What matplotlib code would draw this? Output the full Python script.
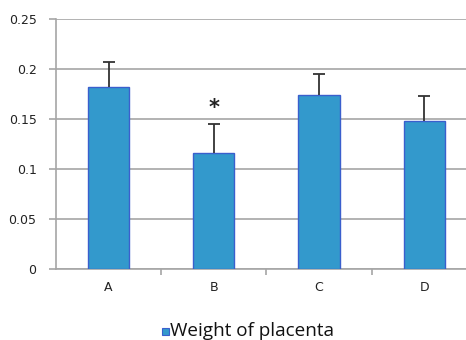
import matplotlib
matplotlib.use("Agg")
import matplotlib.pyplot as plt
import numpy as np
from matplotlib.patches import Rectangle

categories = ["A", "B", "C", "D"]
weights = [0.182, 0.116, 0.174, 0.148]
errors = [0.025, 0.029, 0.021, 0.025]
y_ticks = [0, 0.05, 0.1, 0.15, 0.2, 0.25]
y_tick_labels = ["0", "0.05", "0.1", "0.15", "0.2", "0.25"]
series_name = "Weight of placenta"
significant = [False, True, False, False]

bar_face = "#3399cc"
bar_edge = "#3a5fcd"
grid_col = "#a6a6a6"

fig = plt.figure(figsize=(4.66, 3.40), dpi=100)
ax = fig.add_axes([0.1202, 0.2097, 0.903, 0.7343])

x = np.arange(len(categories))
ax.bar(x, weights, width=0.39, color=bar_face, edgecolor=bar_edge,
       linewidth=1.0, zorder=3)
eb = ax.errorbar(x, weights, yerr=[np.zeros(len(errors)), errors], fmt="none",
                 ecolor="#333333", elinewidth=1.3, capsize=4, capthick=1.3,
                 zorder=4)
# only the upper caps are shown
eb.lines[1][0].set_visible(False)

for xi, w, e, sig in zip(x, weights, errors, significant):
    if sig:
        ax.text(xi, w + e + 0.016, "*", ha="center", va="center",
                fontsize=15, fontweight="bold", color="#222222", zorder=5)

ax.set_xlim(-0.5, 3.5)
ax.set_ylim(0, 0.25)
ax.set_yticks(y_ticks)
ax.set_yticklabels(y_tick_labels)
ax.set_xticks(x)
ax.set_xticklabels(categories)
ax.set_xticks(np.arange(0.5, 3.5, 1.0), minor=True)

ax.yaxis.grid(True, color=grid_col, linewidth=1.2, zorder=0)
ax.set_axisbelow(True)
for s in ("top", "right"):
    ax.spines[s].set_visible(False)
for s in ("left", "bottom"):
    ax.spines[s].set_color(grid_col)
    ax.spines[s].set_linewidth(1.2)

ax.tick_params(axis="y", length=5, width=1.2, color=grid_col, pad=9,
               labelsize=9, labelcolor="#222222")
ax.tick_params(axis="x", which="major", length=0, pad=9,
               labelsize=9, labelcolor="#222222")
ax.tick_params(axis="x", which="minor", length=4, width=1.2, color=grid_col)

# legend entry below the plot
fig.patches.append(Rectangle((161.5 / 466, 1 - 335 / 340), 7.5 / 466, 7 / 340,
                             transform=fig.transFigure, facecolor=bar_face,
                             edgecolor=bar_edge, linewidth=0.8))
fig.text(170 / 466, 1 - 331 / 340, series_name, ha="left", va="center",
         fontsize=13.6, family="Open Sans", color="#111111")

fig.savefig("out.png", dpi=100)
